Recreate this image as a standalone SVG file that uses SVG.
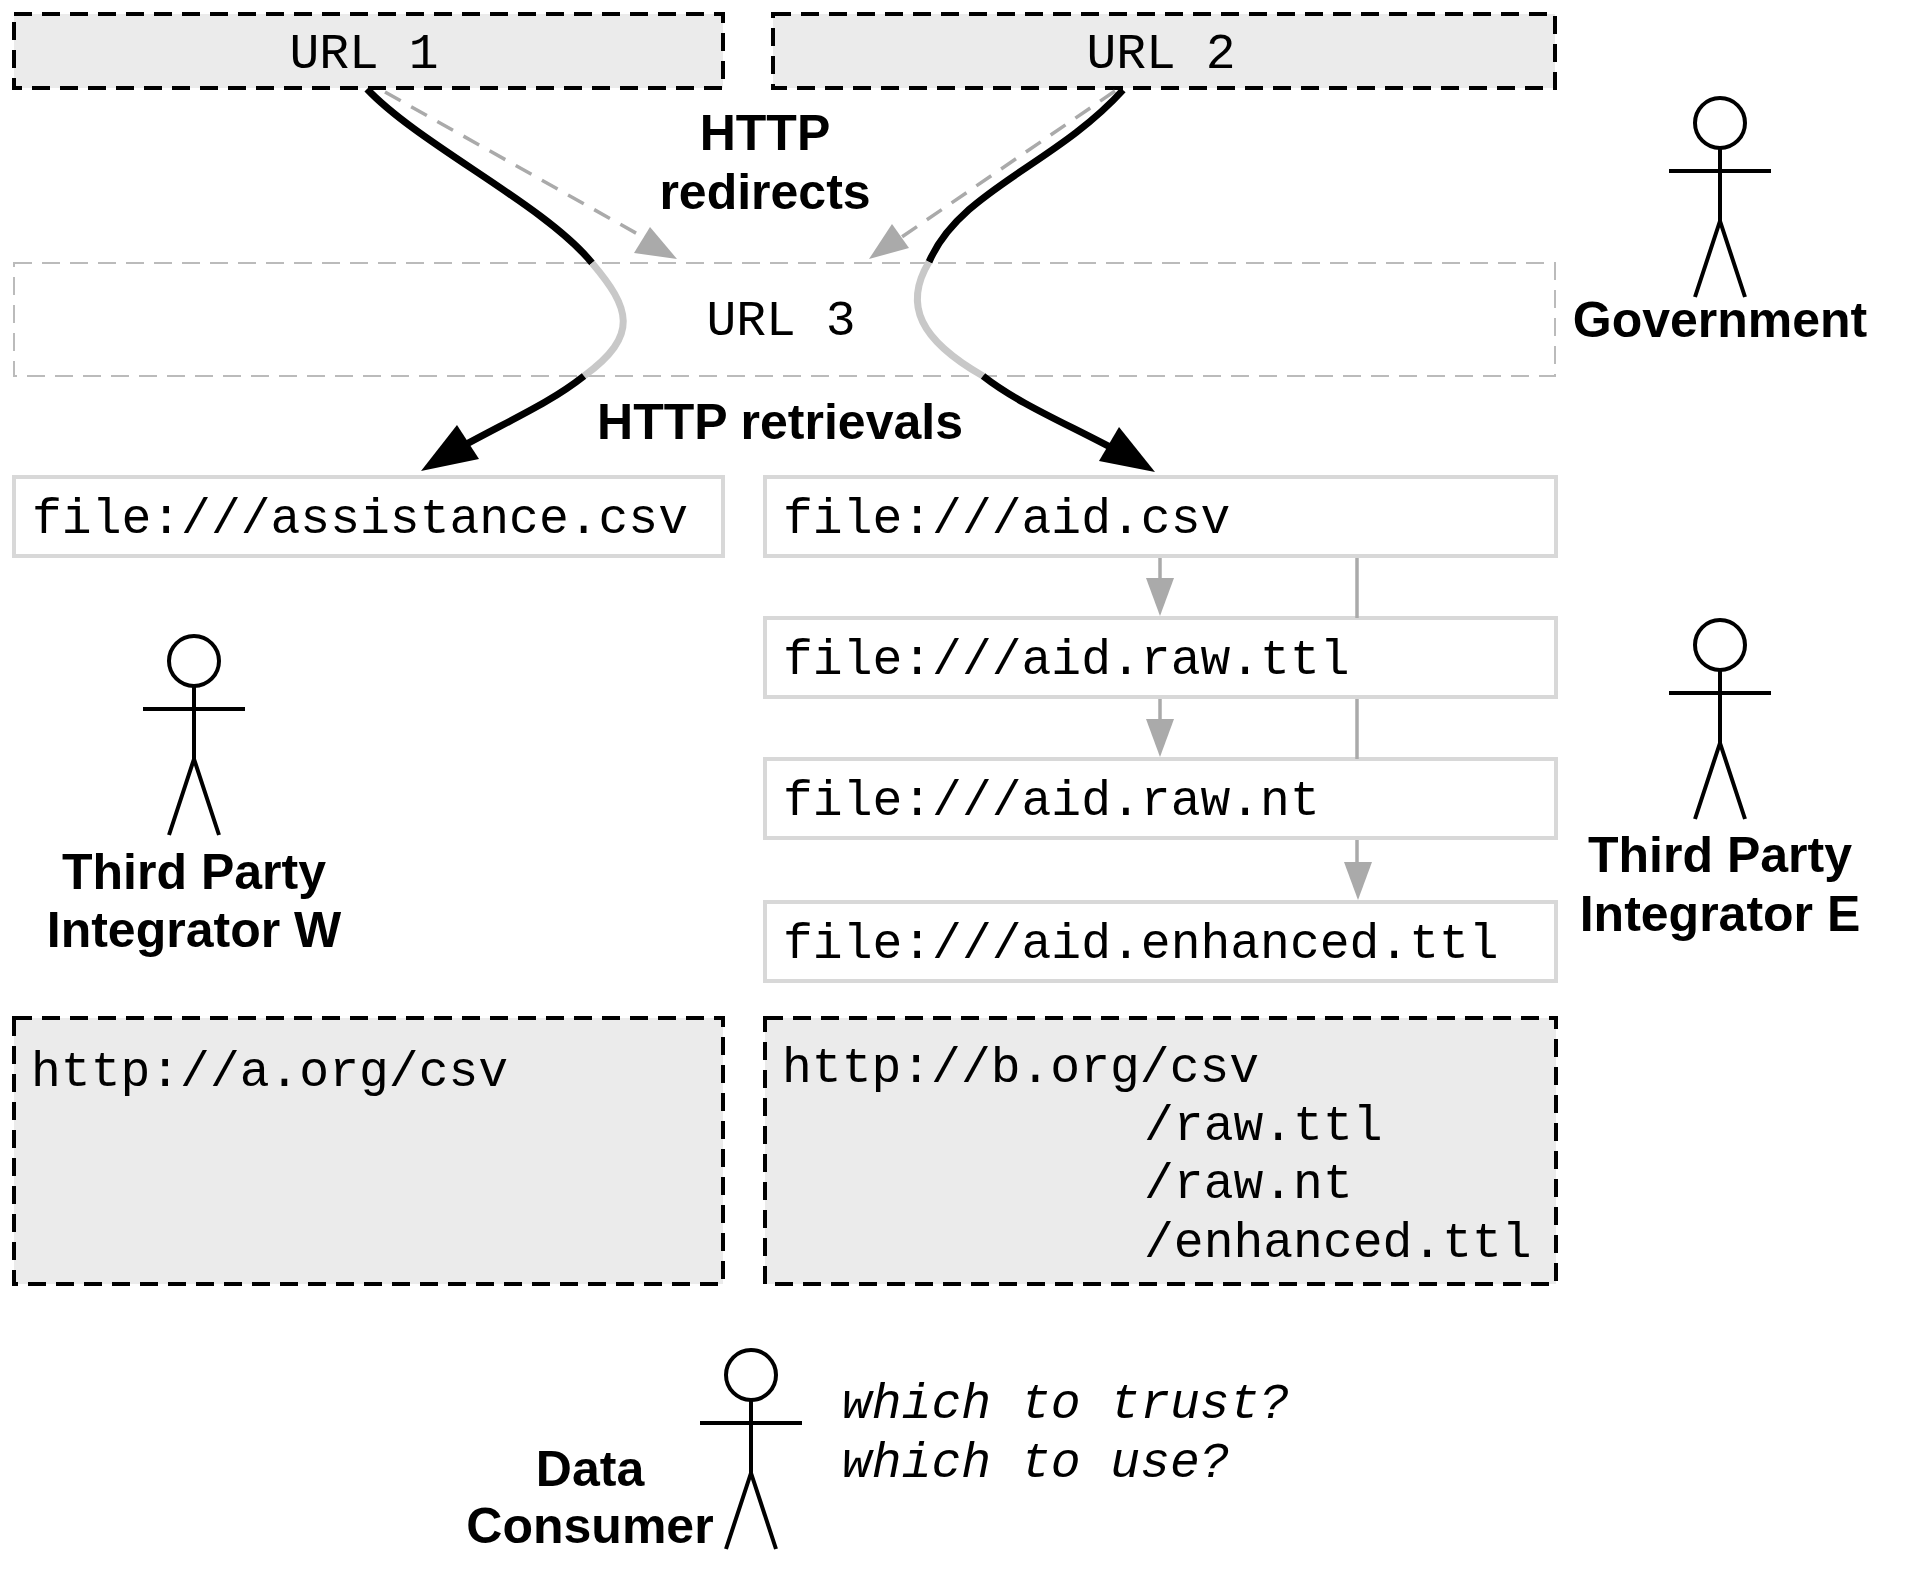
<svg xmlns="http://www.w3.org/2000/svg" width="1908" height="1595" viewBox="0 0 1908 1595">
<style>
.mono{font-family:"Liberation Mono","Courier New",monospace;font-size:49.7px;fill:#000}
.it{font-style:italic}
.lab{font-family:"Liberation Sans",Arial,sans-serif;font-size:50px;font-weight:bold;fill:#000;text-anchor:middle}
.mid{text-anchor:middle}
.dash{fill:#ebebeb;stroke:#000;stroke-width:4;stroke-dasharray:18 10}
.light{fill:#fff;stroke:#bbb;stroke-width:2;stroke-dasharray:18 10}
.file{fill:#fff;stroke:#d8d8d8;stroke-width:4}
.bk{fill:none;stroke:#000;stroke-width:7}
.gy{fill:none;stroke:#c8c8c8;stroke-width:7}
.red{fill:none;stroke:#aaa;stroke-width:3.5;stroke-dasharray:18 12}
.der{fill:none;stroke:#aaa;stroke-width:3.5}
.ah{fill:#aaa}
.actor{fill:none;stroke:#000;stroke-width:4}
</style>
<defs>
<g id="stick">
<circle class="actor" cx="0" cy="0" r="25"/>
<path class="actor" d="M0 25V98M-51 48H51M0 98L-25 174M0 98L25 174"/>
</g>
</defs>
<g id="url1"><rect class="dash" x="14" y="14" width="709" height="74"/><text class="mono mid" x="364" y="68">URL 1</text></g>
<g id="url2"><rect class="dash" x="773" y="14" width="782" height="74"/><text class="mono mid" x="1161" y="68">URL 2</text></g>
<g id="url3"><rect class="light" x="14" y="263" width="1541" height="113"/><text class="mono mid" x="781" y="335">URL 3</text></g>
<g id="assistance"><rect class="file" x="14" y="477" width="709" height="79"/><text class="mono" x="32" y="533">file:///assistance.csv</text></g>
<g id="aid-csv"><rect class="file" x="765" y="477" width="791" height="79"/><text class="mono" x="783" y="533">file:///aid.csv</text></g>
<g id="aid-raw-ttl"><rect class="file" x="765" y="618" width="791" height="79"/><text class="mono" x="783" y="674">file:///aid.raw.ttl</text></g>
<g id="aid-raw-nt"><rect class="file" x="765" y="759" width="791" height="79"/><text class="mono" x="783" y="815">file:///aid.raw.nt</text></g>
<g id="aid-enhanced"><rect class="file" x="765" y="902" width="791" height="79"/><text class="mono" x="783" y="958">file:///aid.enhanced.ttl</text></g>
<g id="site-a"><rect class="dash" x="14" y="1018" width="709" height="266"/><text class="mono" x="31" y="1086">http://a.org/csv</text></g>
<g id="site-b"><rect class="dash" x="765" y="1018" width="791" height="266"/>
<text class="mono" x="782" y="1082">http://b.org/csv</text>
<text class="mono" x="1144" y="1140">/raw.ttl</text>
<text class="mono" x="1144" y="1198">/raw.nt</text>
<text class="mono" x="1144" y="1257">/enhanced.ttl</text></g>
<g id="connectors">
<path class="red" d="M385 92L650 241"/>
<polygon class="ah" points="677,259 634,253 650,227"/>
<path class="red" d="M1115 91L893 243"/>
<polygon class="ah" points="869,259 892,224 909,248"/>
<path class="bk" d="M367 89C420 145 545 205 592 263"/>
<path class="gy" d="M592 263C630 308 640 335 584 376"/>
<path class="bk" d="M584 376C550 403 510 420 452 452"/>
<polygon points="421,471 457,425 479,459"/>
<path class="bk" d="M1123 90C1055 165 960 190 929 262"/>
<path class="gy" d="M929 262C903 305 920 340 983 376"/>
<path class="bk" d="M983 376C1020 405 1070 425 1125 455"/>
<polygon points="1155,472 1099,461 1119,427"/>
<path class="der" d="M1160 558V582"/><polygon class="ah" points="1160,616 1146,578 1174,578"/>
<path class="der" d="M1160 699V723"/><polygon class="ah" points="1160,757 1146,719 1174,719"/>
<path class="der" d="M1357 558V618M1357 699V759M1357 840V866"/><polygon class="ah" points="1358,900 1344,862 1372,862"/>
</g>
<g id="label-redirects"><text class="lab" x="765" y="150">HTTP</text><text class="lab" x="765" y="209">redirects</text></g>
<g id="label-retrievals"><text class="lab" x="780" y="439">HTTP retrievals</text></g>
<g id="government"><use href="#stick" x="1720" y="123"/><text class="lab" x="1720" y="337">Government</text></g>
<g id="integrator-w"><use href="#stick" x="194" y="661"/><text class="lab" x="194" y="889">Third Party</text><text class="lab" x="194" y="947">Integrator W</text></g>
<g id="integrator-e"><use href="#stick" x="1720" y="645"/><text class="lab" x="1720" y="872">Third Party</text><text class="lab" x="1720" y="931">Integrator E</text></g>
<g id="consumer"><use href="#stick" x="751" y="1375"/><text class="lab" x="590" y="1486">Data</text><text class="lab" x="590" y="1543">Consumer</text>
<text class="mono it" x="842" y="1418">which to trust?</text><text class="mono it" x="842" y="1477">which to use?</text></g>
</svg>
